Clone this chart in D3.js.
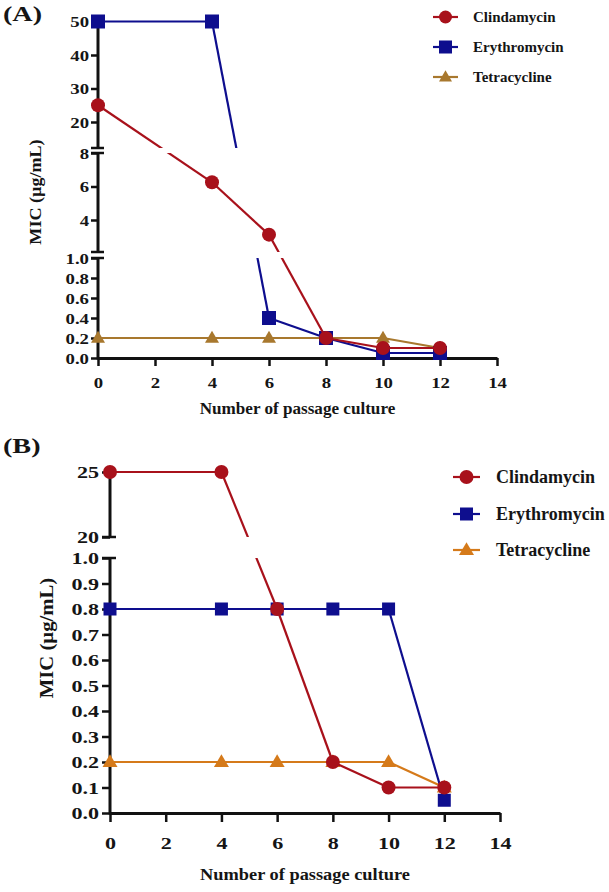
<!DOCTYPE html>
<html><head><meta charset="utf-8">
<script src="https://cdn.jsdelivr.net/npm/d3@7"></script>
<style>
body{margin:0;background:#fff}
svg{display:block}
text{font-family:"Liberation Serif","Times New Roman",serif;font-weight:bold;fill:#151515}
</style>
</head><body>
<svg id="chart" width="609" height="892"></svg>
<script>
// ---------------- data ----------------
const passages = [0, 4, 6, 8, 10, 12];
const clindaA  = [25, 6.25, 3.125, 0.2, 0.1, 0.1];
const erythroA = [50, 50, 0.4, 0.2, 0.05, 0.05];
const tetraA   = [0.2, 0.2, 0.2, 0.2, 0.2, 0.1];
const clindaB  = [25, 25, 0.8, 0.2, 0.1, 0.1];
const erythroB = [0.8, 0.8, 0.8, 0.8, 0.8, 0.05];
const tetraB   = [0.2, 0.2, 0.2, 0.2, 0.2, 0.1];
const seriesNames = ["Clindamycin", "Erythromycin", "Tetracycline"];
const xTicks = [0, 2, 4, 6, 8, 10, 12, 14];
const yTicksA_top = [20, 30, 40, 50];
const yTicksA_mid = [4, 6, 8];
const yTicksA_bot = [0, 0.2, 0.4, 0.6, 0.8, 1.0];
const yTicksB_top = [20, 25];
const yTicksB_bot = [0, 0.1, 0.2, 0.3, 0.4, 0.5, 0.6, 0.7, 0.8, 0.9, 1.0];
const xTitle = "Number of passage culture";
const yTitle = "MIC (µg/mL)";
const panelLabels = ["(A)", "(B)"];

// ---------------- layout ----------------
const svg = d3.select("#chart");
const RED = "#A8111B", BLUE = "#0E0E8E", TAN = "#A8782E", ORANGE = "#D57A1A";

const panels = [
  {
    label: panelLabels[0], labelPos: [3, 21], labelSize: 22, labelSx: 1.28,
    xRange: [98, 497], xAxisY: 358,
    tickFont: 15, tickSx: 1.25, yTickLen: 7, yLabelGap: 9, xTickLen: 8, xLabelOff: 30,
    xTitleY: 414, xTitleFont: 16, xTitleSx: 1.07,
    yTitleX: 41, yTitleY: 192, yTitleFont: 16, yTitleSx: 1.13,
    segs: [
      {dom: [20, 50], rng: [122, 21.5], axis: [21.5, 148], clip: [0, 148], ticks: yTicksA_top, fmt: d3.format("d"), min: 8, capBottom: true},
      {dom: [4, 8], rng: [220, 153], axis: [153, 252], clip: [153, 252], ticks: yTicksA_mid, fmt: d3.format("d"), min: 1, capTop: true, capBottom: true},
      {dom: [0, 1], rng: [358, 258], axis: [258, 358], clip: [258, 420], ticks: yTicksA_bot, fmt: d3.format(".1f"), min: -Infinity, capTop: true}
    ],
    series: [
      {name: seriesNames[2], values: tetraA, color: TAN, shape: "triangle"},
      {name: seriesNames[1], values: erythroA, color: BLUE, shape: "square"},
      {name: seriesNames[0], values: clindaA, color: RED, shape: "circle"}
    ],
    markerR: 7, sq: 14, tri: 14,
    legend: {x0: 433, x1: 458, tx: 473, rows: [17, 47, 77], font: 15, r: 6.5, sq: 13, tri: 13}
  },
  {
    label: panelLabels[1], labelPos: [3, 453], labelSize: 22, labelSx: 1.28,
    xRange: [110, 500], xAxisY: 813,
    tickFont: 17, tickSx: 1.3, yTickLen: 8, yLabelGap: 11, xTickLen: 9, xLabelOff: 36,
    xTitleY: 880, xTitleFont: 17, xTitleSx: 1.08,
    yTitleX: 53, yTitleY: 638, yTitleFont: 18, yTitleSx: 1.15,
    segs: [
      {dom: [20, 25], rng: [537, 472], axis: [472, 537], clip: [0, 537], ticks: yTicksB_top, fmt: d3.format("d"), min: 1, capBottom: true},
      {dom: [0, 1], rng: [813, 558], axis: [558, 813], clip: [558, 892], ticks: yTicksB_bot, fmt: d3.format(".1f"), min: -Infinity, capTop: true}
    ],
    series: [
      {name: seriesNames[2], values: tetraB, color: ORANGE, shape: "triangle"},
      {name: seriesNames[1], values: erythroB, color: BLUE, shape: "square"},
      {name: seriesNames[0], values: clindaB, color: RED, shape: "circle"}
    ],
    markerR: 7, sq: 13, tri: 15,
    legend: {x0: 453, x1: 480, tx: 496, rows: [477, 514, 550], font: 18, r: 7, sq: 13, tri: 15}
  }
];

const defs = svg.append("defs");

function marker(g, shape, x, y, color, r, sq, tri) {
  if (shape === "circle") {
    g.append("circle").attr("cx", x).attr("cy", y).attr("r", r).attr("fill", color);
  } else if (shape === "square") {
    g.append("rect").attr("x", x - sq / 2).attr("y", y - sq / 2).attr("width", sq).attr("height", sq).attr("fill", color);
  } else {
    const h = tri * 0.85;
    g.append("path")
      .attr("d", `M${x},${y - h * 0.6}L${x + tri / 2},${y + h * 0.4}L${x - tri / 2},${y + h * 0.4}Z`)
      .attr("fill", color);
  }
}

function sText(g, str, x, y, size, sx, anchor, rot) {
  return g.append("text")
    .attr("transform", `translate(${x},${y})` + (rot ? ` rotate(${rot})` : "") + ` scale(${sx},1)`)
    .attr("text-anchor", anchor)
    .style("font-size", size + "px")
    .text(str);
}

panels.forEach((P, pi) => {
  const g = svg.append("g");
  const x = d3.scaleLinear().domain([0, 14]).range(P.xRange);
  P.segs.forEach(s => { s.scale = d3.scaleLinear().domain(s.dom).range(s.rng); });
  const segOf = v => P.segs.find(s => v > s.min);
  const ax = P.xRange[0];

  // clip paths
  P.segs.forEach((s, si) => {
    s.clipId = `clip-${pi}-${si}`;
    defs.append("clipPath").attr("id", s.clipId)
      .append("rect").attr("x", 0).attr("width", 609)
      .attr("y", s.clip[0]).attr("height", s.clip[1] - s.clip[0]);
  });

  // panel label
  sText(g, P.label, P.labelPos[0], P.labelPos[1], P.labelSize, P.labelSx, "start");

  // y axis segments
  P.segs.forEach(s => {
    const yAxis = d3.axisLeft(s.scale).tickValues(s.ticks).tickFormat(s.fmt)
      .tickSize(P.yTickLen).tickSizeOuter(0);
    const ga = g.append("g").attr("transform", `translate(${ax},0)`).call(yAxis);
    ga.select(".domain").remove();
    ga.selectAll(".tick line").attr("stroke", "#111").attr("stroke-width", 2.5);
    ga.selectAll(".tick text")
      .attr("x", null).attr("dy", null)
      .attr("transform", `translate(${-P.yLabelGap},${P.tickFont * 0.34}) scale(${P.tickSx},1)`)
      .attr("text-anchor", "end")
      .style("font-size", P.tickFont + "px").style("font-family", null).attr("font-family", null)
      .attr("fill", "#151515");
    ga.attr("font-family", null).attr("font-size", null);
    g.append("line").attr("x1", ax).attr("x2", ax)
      .attr("y1", s.axis[0]).attr("y2", s.axis[1] + (s.axis[1] === P.xAxisY ? 1.5 : 0))
      .attr("stroke", "#111").attr("stroke-width", 3);
    if (s.capBottom) g.append("line").attr("x1", ax - P.yTickLen).attr("x2", ax + 6)
      .attr("y1", s.axis[1]).attr("y2", s.axis[1]).attr("stroke", "#111").attr("stroke-width", 2.5);
    if (s.capTop) g.append("line").attr("x1", ax - P.yTickLen).attr("x2", ax + 6)
      .attr("y1", s.axis[0]).attr("y2", s.axis[0]).attr("stroke", "#111").attr("stroke-width", 2.5);
  });

  // x axis
  const xAxis = d3.axisBottom(x).tickValues(xTicks).tickFormat(d3.format("d"))
    .tickSize(P.xTickLen).tickSizeOuter(0);
  const gx = g.append("g").attr("transform", `translate(0,${P.xAxisY})`).call(xAxis);
  gx.select(".domain").attr("stroke", "#111").attr("stroke-width", 3);
  gx.selectAll(".tick line").attr("stroke", "#111").attr("stroke-width", 2.5);
  gx.selectAll(".tick text")
    .attr("y", null).attr("dy", null)
    .attr("transform", `translate(0,${P.xLabelOff}) scale(${P.tickSx},1)`)
    .attr("text-anchor", "middle")
    .style("font-size", P.tickFont + "px").attr("fill", "#151515");
  gx.attr("font-family", null).attr("font-size", null);

  // titles
  sText(g, xTitle, (P.xRange[0] + P.xRange[1]) / 2, P.xTitleY, P.xTitleFont, P.xTitleSx, "middle");
  sText(g, yTitle, P.yTitleX, P.yTitleY, P.yTitleFont, P.yTitleSx, "middle", -90);

  // series
  P.series.forEach(S => {
    const pts = passages.map((p, i) => ({x: x(p), y: segOf(S.values[i]).scale(S.values[i]), v: S.values[i]}));
    const gl = g.append("g");
    for (let i = 0; i < pts.length - 1; i++) {
      const a = pts[i], b = pts[i + 1];
      const segs = Array.from(new Set([segOf(a.v), segOf(b.v)]));
      segs.forEach(s => {
        gl.append("line").attr("x1", a.x).attr("y1", a.y).attr("x2", b.x).attr("y2", b.y)
          .attr("stroke", S.color).attr("stroke-width", 2.2)
          .attr("clip-path", `url(#${s.clipId})`);
      });
    }
    pts.forEach(p => marker(gl, S.shape, p.x, p.y, S.color, P.markerR, P.sq, P.tri));
  });

  // legend
  const L = P.legend;
  const legendOrder = [P.series[2], P.series[1], P.series[0]];
  legendOrder.forEach((S, i) => {
    const y = L.rows[i];
    g.append("line").attr("x1", L.x0).attr("x2", L.x1).attr("y1", y).attr("y2", y)
      .attr("stroke", S.color).attr("stroke-width", 2.2);
    marker(g, S.shape, (L.x0 + L.x1) / 2, y, S.color, L.r, L.sq, L.tri);
    sText(g, S.name, L.tx, y + L.font * 0.34, L.font, 1, "start");
  });
});
</script>
</body></html>
